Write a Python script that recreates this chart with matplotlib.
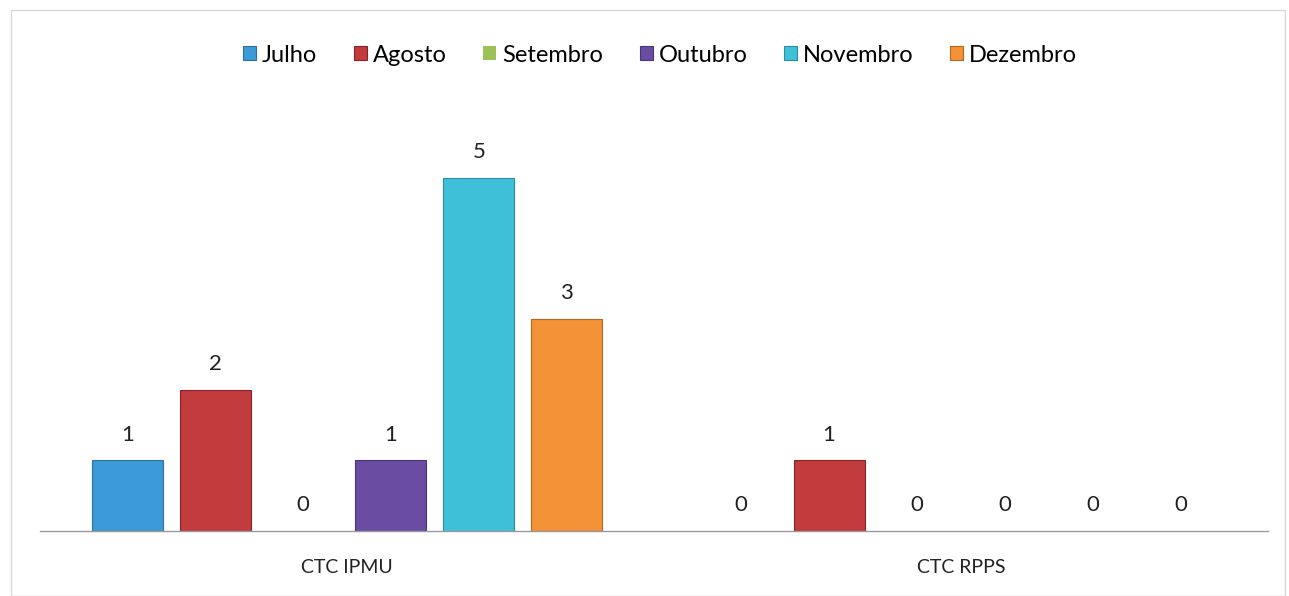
import numpy as np
import matplotlib.pyplot as plt
from matplotlib.patches import Rectangle

# dados do grafico
categorias = ['CTC IPMU', 'CTC RPPS']
meses = ['Julho', 'Agosto', 'Setembro', 'Outubro', 'Novembro', 'Dezembro']
julho = [1, 0]
agosto = [2, 1]
setembro = [0, 0]
outubro = [1, 0]
novembro = [5, 0]
dezembro = [3, 0]

series = [julho, agosto, setembro, outubro, novembro, dezembro]
cores = ['#3d9ad8', '#c23b3d', '#9cc255', '#6a4ca3', '#3fc0d9', '#f39237']
bordas = ['#2a6f9e', '#8a2325', '#6f8f3a', '#4a3478', '#2a8ea3', '#b8661f']

plt.rcParams['font.family'] = ['Lato', 'DejaVu Sans']

fig = plt.figure(figsize=(12.89, 5.96), dpi=100)
ax = fig.add_axes([40 / 1289, 65 / 596, 1228 / 1289, 424 / 596])

# moldura externa do grafico
fig.patches.append(Rectangle((11 / 1289, 0), 1274 / 1289, 586 / 596,
                             transform=fig.transFigure, fill=False,
                             edgecolor='#d8d8d8', linewidth=1))

x = np.arange(len(categorias))
passo = 88 / 614.5
largura = 71 / 614.5

for k, (vals, mes) in enumerate(zip(series, meses)):
    pos = x + (k - 2.5) * passo
    barras = ax.bar(pos, vals, width=largura, color=cores[k],
                    edgecolor=bordas[k], linewidth=0.8, label=mes)
    # rotulos de dados
    for b, p, v in zip(barras, pos, vals):
        if v == 0:
            b.set_linewidth(0)
        ax.text(p, v + 0.22, str(v), ha='center', va='bottom',
                fontsize=16, color='#222222')

ax.set_xlim(-0.5, 1.5)
ax.set_ylim(0, 6)
ax.set_yticks([])
ax.set_xticks(x)
ax.set_xticklabels(categorias, fontsize=14, color='#222222')
ax.tick_params(axis='x', length=0, pad=20)
for s in ['top', 'right', 'left']:
    ax.spines[s].set_visible(False)
ax.spines['bottom'].set_color('#999999')
ax.spines['bottom'].set_linewidth(1)

ax.legend(loc='center', bbox_to_anchor=(660 / 1289, 541 / 596),
          bbox_transform=fig.transFigure, ncol=6, frameon=False,
          fontsize=17, handlelength=0.55, handleheight=0.55,
          handletextpad=0.25, columnspacing=1.55)

fig.savefig('out.png', dpi=100, facecolor='white')
